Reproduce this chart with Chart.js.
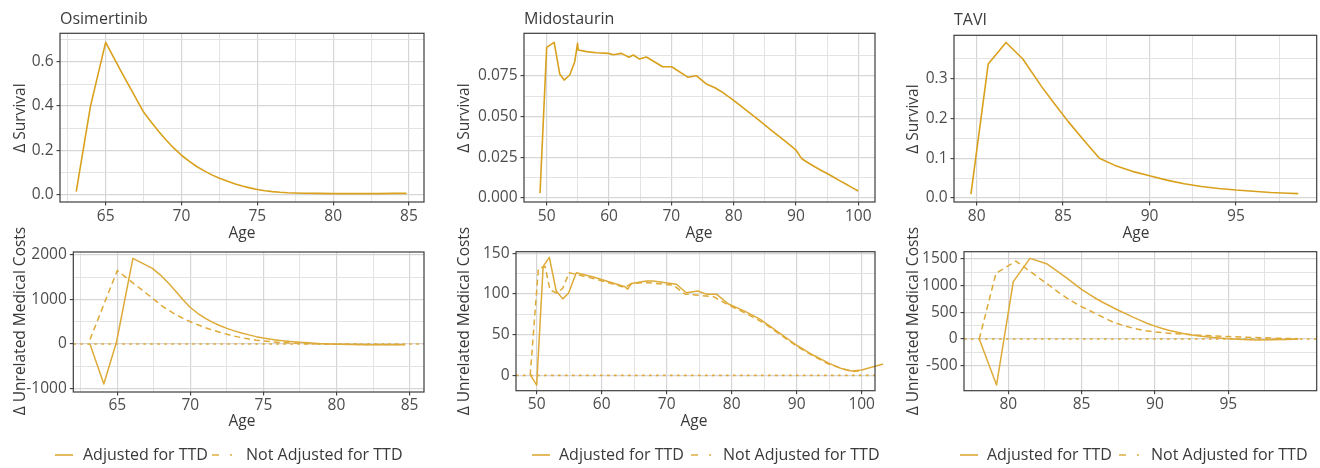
<!DOCTYPE html>
<html>
<head>
<meta charset="utf-8">
<title>Δ Survival and Δ Unrelated Medical Costs by Age</title>
<script src="https://cdn.jsdelivr.net/npm/chart.js@4.4.1/dist/chart.umd.min.js"></script>
<style>
  body { margin: 0; background: #fff; }
  #page { position: relative; width: 1320px; height: 468px; overflow: hidden;
          font-family: 'Open Sans', sans-serif; color: #3a3a3a; }
  #page canvas { position: absolute; left: 0; top: 0; }
  .t { position: absolute; white-space: nowrap; line-height: 1.2; }
  .title { font-size: 16px; transform: translateY(-50%); }
  .ytitle { font-size: 15.5px; transform: translate(-50%, -50%) rotate(-90deg); }
  .xtitle { font-size: 15.5px; transform: translate(-50%, -50%); }
  .leg { font-size: 16px; transform: translateY(-50%); }
  .key { position: absolute; }
</style>
</head>
<body>
<div id="page">
  <canvas id="osiSurvChart" width="1320" height="468"></canvas>
  <canvas id="osiCostChart" width="1320" height="468"></canvas>
  <canvas id="midoSurvChart" width="1320" height="468"></canvas>
  <canvas id="midoCostChart" width="1320" height="468"></canvas>
  <canvas id="taviSurvChart" width="1320" height="468"></canvas>
  <canvas id="taviCostChart" width="1320" height="468"></canvas>

  <!-- panel titles -->
  <div class="t title" style="left:60px; top:19px;">Osimertinib</div>
  <div class="t title" style="left:524px; top:19px;">Midostaurin</div>
  <div class="t title" style="left:954px; top:20px;">TAVI</div>

  <!-- y axis titles -->
  <div class="t ytitle" style="left:19px; top:118px;">Δ Survival</div>
  <div class="t ytitle" style="left:463px; top:118px;">Δ Survival</div>
  <div class="t ytitle" style="left:912px; top:119px;">Δ Survival</div>
  <div class="t ytitle" style="left:19px; top:321px;">Δ Unrelated Medical Costs</div>
  <div class="t ytitle" style="left:463px; top:321px;">Δ Unrelated Medical Costs</div>
  <div class="t ytitle" style="left:912px; top:321px;">Δ Unrelated Medical Costs</div>

  <!-- x axis titles -->
  <div class="t xtitle" style="left:242px; top:232px;">Age</div>
  <div class="t xtitle" style="left:699px; top:232px;">Age</div>
  <div class="t xtitle" style="left:1136px; top:232px;">Age</div>
  <div class="t xtitle" style="left:242px; top:420px;">Age</div>
  <div class="t xtitle" style="left:694px; top:420px;">Age</div>

  <!-- legends -->
  <svg class="key" style="left:55px; top:450px;" width="18" height="10"><line x1="0" y1="5" x2="18" y2="5" stroke="#E0AE43" stroke-width="1.7"/></svg>
  <div class="t leg" style="left:83px; top:455px;">Adjusted for TTD</div>
  <svg class="key" style="left:212px; top:450px;" width="20" height="10"><line x1="0" y1="5" x2="20" y2="5" stroke="#E0AE43" stroke-width="1.7" stroke-dasharray="7 11"/></svg>
  <div class="t leg" style="left:246px; top:455px;">Not Adjusted for TTD</div>

  <svg class="key" style="left:532px; top:450px;" width="18" height="10"><line x1="0" y1="5" x2="18" y2="5" stroke="#E0AE43" stroke-width="1.7"/></svg>
  <div class="t leg" style="left:559px; top:455px;">Adjusted for TTD</div>
  <svg class="key" style="left:691px; top:450px;" width="20" height="10"><line x1="0" y1="5" x2="20" y2="5" stroke="#E0AE43" stroke-width="1.7" stroke-dasharray="7 11"/></svg>
  <div class="t leg" style="left:723px; top:455px;">Not Adjusted for TTD</div>

  <svg class="key" style="left:960px; top:450px;" width="18" height="10"><line x1="0" y1="5" x2="18" y2="5" stroke="#E0AE43" stroke-width="1.7"/></svg>
  <div class="t leg" style="left:987px; top:455px;">Adjusted for TTD</div>
  <svg class="key" style="left:1119px; top:450px;" width="20" height="10"><line x1="0" y1="5" x2="20" y2="5" stroke="#E0AE43" stroke-width="1.7" stroke-dasharray="7 11"/></svg>
  <div class="t leg" style="left:1151px; top:455px;">Not Adjusted for TTD</div>
</div>

<script>
// ---- data ----

// Osimertinib
const osiSurvAge = [63.06, 64, 65, 66, 67, 67.5, 68, 68.5, 69, 69.5, 70, 70.5, 71, 71.5, 72, 72.5, 73, 73.5, 74, 74.5, 75, 75.5, 76, 76.5, 77, 78, 79, 80, 81, 82, 83, 84, 84.84];
const osiSurv    = [0.012, 0.40, 0.689, 0.56, 0.435, 0.373, 0.328, 0.285, 0.245, 0.209, 0.177, 0.150, 0.126, 0.106, 0.088, 0.073, 0.060, 0.048, 0.038, 0.029, 0.022, 0.016, 0.012, 0.009, 0.007, 0.005, 0.004, 0.003, 0.003, 0.003, 0.003, 0.004, 0.004];

const osiCostAdjAge = [63.13, 64.08, 64.95, 66.07, 67.4, 68, 68.5, 69, 69.5, 70, 70.5, 71, 71.5, 72, 72.5, 73, 73.5, 74, 74.5, 75, 75.5, 76, 76.5, 77, 77.5, 78, 78.5, 79, 80, 81, 82, 83, 84, 84.7];
const osiCostAdj    = [0, -900, 50, 1925, 1700, 1535, 1370, 1185, 995, 820, 690, 580, 490, 415, 350, 295, 247, 205, 165, 132, 105, 84, 66, 50, 37, 26, 16, 8, -5, -12, -16, -18, -20, -20];
const osiCostNotAge = [63.13, 65.0, 66, 67, 67.4, 68, 68.5, 69, 69.5, 70, 70.5, 71, 71.5, 72, 72.5, 73, 73.5, 74, 74.5, 75, 76, 77, 78, 79, 80, 81, 82, 84.7];
const osiCostNot    = [100, 1650, 1390, 1135, 1030, 870, 760, 660, 575, 500, 432, 370, 315, 265, 218, 177, 142, 112, 86, 66, 38, 20, 8, 0, -5, -8, -10, -10];

// Midostaurin
const midoSurvAge = [48.93, 50.0, 51.2, 52.1, 52.8, 53.7, 54.5, 54.95, 55.05, 56.4, 58.0, 59.9, 60.7, 62.0, 63.2, 63.9, 64.9, 66.0, 68.6, 70.05, 72.7, 74.0, 75.7, 77.0, 78, 79, 80, 82, 84, 86, 88, 89, 90, 90.7, 91, 92, 93, 94, 95, 96, 97, 98, 99, 100];
const midoSurv    = [0.003, 0.0926, 0.0957, 0.0762, 0.0725, 0.0756, 0.0838, 0.0951, 0.091, 0.0900, 0.0893, 0.0889, 0.0881, 0.0889, 0.0865, 0.0879, 0.0854, 0.0867, 0.0807, 0.0807, 0.0742, 0.0752, 0.0699, 0.0678, 0.0655, 0.0628, 0.0600, 0.0540, 0.0480, 0.0418, 0.0357, 0.0327, 0.0295, 0.0254, 0.0240, 0.0215, 0.0192, 0.0171, 0.0151, 0.0129, 0.0107, 0.0086, 0.0064, 0.0043];

const midoCostAdjAge = [49.08, 50.0, 51.0, 51.95, 53.0, 54.0, 54.9, 56.1, 58.7, 63.6, 64.0, 64.6, 66.9, 67.9, 71.5, 73.0, 74.8, 76.2, 77.7, 79.5, 82, 84.4, 87, 90, 92.5, 95, 97, 98.5, 100, 103.3];
const midoCostAdj    = [0, -12, 134, 145, 104, 94, 101, 126, 121, 109, 106, 113, 116, 116, 112, 101.6, 103.7, 99.6, 99.6, 87.7, 79, 68.9, 54, 37, 25, 14.8, 8, 5.3, 6.6, 14];
const midoCostNotAge = [49.0, 50.26, 51.3, 52.05, 53.1, 54.0, 55.0, 56.7, 59.7, 63.6, 64.6, 66.9, 71, 72.8, 77.2, 79.5, 82, 85, 87.5, 90, 92.5, 95, 98.5, 100.2];
const midoCostNot    = [0, 131, 134, 105, 101, 107, 126, 123, 117, 108, 113, 114, 111, 100, 96.7, 86.5, 77, 64, 50, 36, 24, 13.5, 4.5, 5.7];

// TAVI
const taviSurvAge = [79.67, 80.67, 81.7, 82.66, 83.76, 84.5, 85.3, 86.2, 87.1, 88, 89, 90, 91, 92, 93, 94, 95, 96, 97, 98, 98.6];
const taviSurv    = [0.010, 0.337, 0.391, 0.350, 0.280, 0.237, 0.192, 0.145, 0.100, 0.082, 0.067, 0.056, 0.045, 0.036, 0.029, 0.024, 0.020, 0.017, 0.014, 0.012, 0.011];

const taviCostAdjAge = [78.02, 79.2, 80.34, 81.48, 82.66, 83.5, 84, 84.5, 85, 85.5, 86, 86.5, 87, 87.5, 88, 88.5, 89, 89.5, 90, 90.5, 91, 92, 93, 94, 95, 96, 97, 98, 99, 99.77];
const taviCostAdj    = [0, -862, 1075, 1512, 1406, 1240, 1140, 1035, 930, 840, 755, 680, 610, 540, 475, 410, 350, 292, 242, 197, 158, 100, 58, 27, 5, -10, -17, -15, -7, 0];
const taviCostNotAge = [78.02, 79.16, 80.52, 82.6, 83.5, 84.2, 84.9, 85.5, 86, 86.6, 87.2, 88, 88.5, 89.2, 89.9, 90.8, 91.7, 93, 94, 95, 96.25, 98, 99.77];
const taviCostNot    = [0, 1231, 1462, 1044, 860, 730, 619, 540, 470, 390, 310, 240, 203, 163, 137, 112, 94, 72, 58, 46, 33, 18, 6];

// ---- ticks (major labelled, minor = grid only) ----
const osiXMajor = [65, 70, 75, 80, 85];
const osiXMinor = [62.5, 67.5, 72.5, 77.5, 82.5];
const osiSurvYMajor = [0, 0.2, 0.4, 0.6];
const osiSurvYLabels = ['0.0', '0.2', '0.4', '0.6'];
const osiSurvYMinor = [0.1, 0.3, 0.5, 0.7];
const osiCostYMajor = [-1000, 0, 1000, 2000];
const osiCostYLabels = ['-1000', '0', '1000', '2000'];
const osiCostYMinor = [-500, 500, 1500];

const midoXMajor = [50, 60, 70, 80, 90, 100];
const midoXMinor = [55, 65, 75, 85, 95];
const midoSurvYMajor = [0, 0.025, 0.05, 0.075];
const midoSurvYLabels = ['0.000', '0.025', '0.050', '0.075'];
const midoSurvYMinor = [0.0125, 0.0375, 0.0625, 0.0875];
const midoCostYMajor = [0, 50, 100, 150];
const midoCostYLabels = ['0', '50', '100', '150'];
const midoCostYMinor = [25, 75, 125];

const taviXMajor = [80, 85, 90, 95];
const taviXMinor = [77.5, 82.5, 87.5, 92.5, 97.5];
const taviSurvYMajor = [0, 0.1, 0.2, 0.3];
const taviSurvYLabels = ['0.0', '0.1', '0.2', '0.3'];
const taviSurvYMinor = [0.05, 0.15, 0.25, 0.35];
const taviCostYMajor = [-500, 0, 500, 1000, 1500];
const taviCostYLabels = ['-500', '0', '500', '1000', '1500'];
const taviCostYMinor = [-250, 250, 750, 1250];

// ---- styles ----
const W = 1320, H = 468;
const Y_AXIS_W = 50, X_AXIS_H = 30;
const SURV_COLOR = '#D9A01C';
const COST_COLOR = '#DEAA38';
const TICK_FONT = { family: "'Open Sans', sans-serif", size: 15.5 };

// border round the panel, drawn over the data like ggplot
const panelBorder = {
  id: 'panelBorder',
  afterDatasetsDraw(chart) {
    const a = chart.chartArea, ctx = chart.ctx;
    ctx.save();
    ctx.strokeStyle = '#3d3d3d';
    ctx.lineWidth = 1.2;
    ctx.strokeRect(a.left, a.top, a.right - a.left, a.bottom - a.top);
    ctx.restore();
  }
};

// dotted reference line at 0
const zeroLine = {
  id: 'zeroLine',
  beforeDatasetsDraw(chart, args, opts) {
    if (!opts.show) return;
    const a = chart.chartArea, ctx = chart.ctx;
    const y = chart.scales.y.getPixelForValue(0);
    ctx.save();
    ctx.strokeStyle = '#E0A93A';
    ctx.lineWidth = 1.6;
    ctx.setLineDash([2.6, 4.4]);
    ctx.beginPath();
    ctx.moveTo(a.left, y);
    ctx.lineTo(a.right, y);
    ctx.stroke();
    ctx.restore();
  }
};

function toPoints(ages, vals) {
  return ages.map((a, i) => ({ x: a, y: vals[i] }));
}

function axis(min, max, majors, minors, labels, isY, pad) {
  return {
    type: 'linear',
    min: min,
    max: max,
    afterBuildTicks: scale => {
      const all = majors.map(v => ({ value: v, isMajor: true }))
        .concat(minors.filter(v => v > min && v < max).map(v => ({ value: v, isMajor: false })));
      all.sort((p, q) => p.value - q.value);
      scale.ticks = all;
    },
    afterFit: scale => {
      if (isY) scale.width = Y_AXIS_W; else scale.height = X_AXIS_H;
    },
    border: { display: false },
    grid: {
      drawTicks: true,
      tickLength: 3.5,
      color: c => (c.tick && c.tick.isMajor) ? '#d6d6d6' : '#e3e3e3',
      lineWidth: c => (c.tick && c.tick.isMajor) ? 1.2 : 1,
      tickColor: c => (c.tick && c.tick.isMajor) ? '#3d3d3d' : 'rgba(0,0,0,0)',
      tickWidth: 1.1
    },
    ticks: {
      autoSkip: false,
      maxRotation: 0,
      padding: pad,
      color: '#4d4d4d',
      font: TICK_FONT,
      callback: (value, i, ticks) => {
        if (!ticks[i].isMajor) return '';
        const k = majors.indexOf(ticks[i].value);
        return labels ? labels[k] : String(ticks[i].value);
      }
    }
  };
}

function makePanel(id, box, xScale, yScale, datasets, showZero) {
  new Chart(document.getElementById(id), {
    type: 'line',
    data: { datasets: datasets },
    options: {
      responsive: false,
      animation: false,
      events: [],
      layout: {
        padding: {
          left: box.left - Y_AXIS_W,
          top: box.top,
          right: W - box.right,
          bottom: H - box.bottom - X_AXIS_H
        }
      },
      elements: { point: { radius: 0 }, line: { tension: 0, borderJoinStyle: 'round' } },
      plugins: {
        legend: { display: false },
        tooltip: { enabled: false },
        zeroLine: { show: showZero }
      },
      scales: { x: xScale, y: yScale }
    },
    plugins: [zeroLine, panelBorder]
  });
}

function survLine(ages, vals) {
  return { data: toPoints(ages, vals), borderColor: SURV_COLOR, borderWidth: 1.6, fill: false };
}
function costLine(ages, vals, dashed, noClip) {
  const d = { data: toPoints(ages, vals), borderColor: COST_COLOR, borderWidth: 1.5, fill: false };
  if (dashed) d.borderDash = [6, 4];
  if (noClip) d.clip = false;
  return d;
}

// Osimertinib
makePanel('osiSurvChart', { left: 60, top: 33.3, right: 424, bottom: 202 },
  axis(61.99, 85.99, osiXMajor, osiXMinor, null, false, 1.5),
  axis(-0.035, 0.730, osiSurvYMajor, osiSurvYMinor, osiSurvYLabels, true, 3),
  [survLine(osiSurvAge, osiSurv)], false);

makePanel('osiCostChart', { left: 73.3, top: 252, right: 424, bottom: 392 },
  axis(61.99, 85.99, osiXMajor, osiXMinor, null, false, 1),
  axis(-1079, 2067, osiCostYMajor, osiCostYMinor, osiCostYLabels, true, 3),
  [costLine(osiCostAdjAge, osiCostAdj, false), costLine(osiCostNotAge, osiCostNot, true)], true);

// Midostaurin
makePanel('midoSurvChart', { left: 524, top: 33.3, right: 875, bottom: 202 },
  axis(46.36, 102.68, midoXMajor, midoXMinor, null, false, 1.5),
  axis(-0.00246, 0.10125, midoSurvYMajor, midoSurvYMinor, midoSurvYLabels, true, 3),
  [survLine(midoSurvAge, midoSurv)], false);

makePanel('midoCostChart', { left: 516, top: 251.7, right: 875, bottom: 390.7 },
  axis(46.82, 102.05, midoXMajor, midoXMinor, null, false, 1),
  axis(-18.85, 152.0, midoCostYMajor, midoCostYMinor, midoCostYLabels, true, 3),
  [costLine(midoCostAdjAge, midoCostAdj, false, true), costLine(midoCostNotAge, midoCostNot, true)], true);

// TAVI
makePanel('taviSurvChart', { left: 954, top: 35.3, right: 1316.7, bottom: 202 },
  axis(78.69, 99.67, taviXMajor, taviXMinor, null, false, 1.5),
  axis(-0.010, 0.409, taviSurvYMajor, taviSurvYMinor, taviSurvYLabels, true, 3),
  [survLine(taviSurvAge, taviSurv)], false);

makePanel('taviCostChart', { left: 964, top: 251.7, right: 1316.7, bottom: 390.7 },
  axis(76.98, 101.03, taviXMajor, taviXMinor, null, false, 1),
  axis(-969, 1637, taviCostYMajor, taviCostYMinor, taviCostYLabels, true, 3),
  [costLine(taviCostAdjAge, taviCostAdj, false), costLine(taviCostNotAge, taviCostNot, true)], true);
</script>
</body>
</html>
